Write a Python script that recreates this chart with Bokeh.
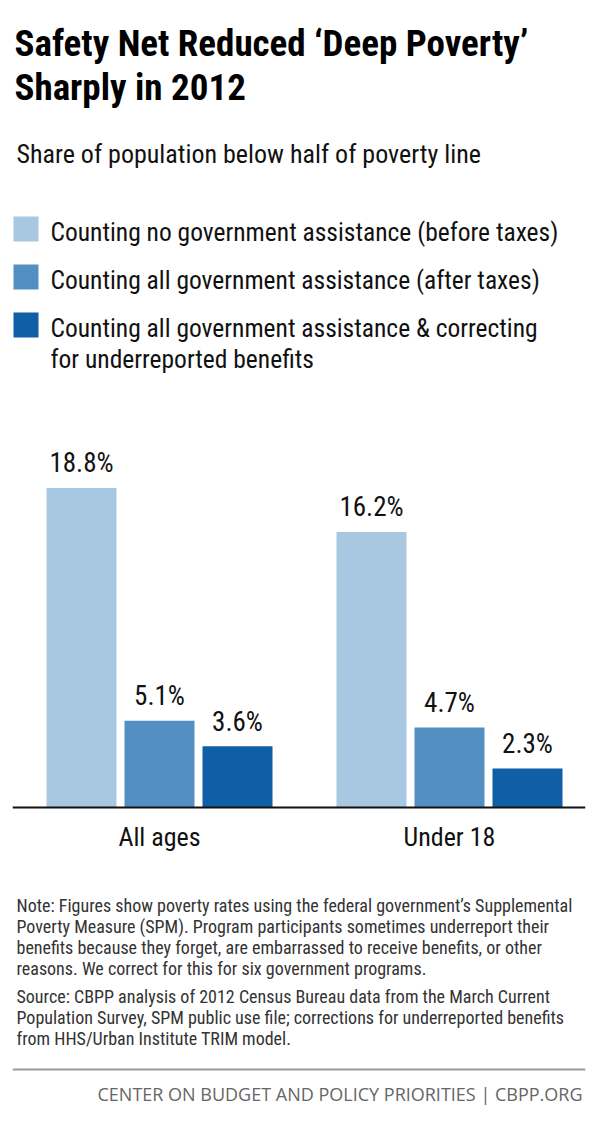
from bokeh.plotting import figure
from bokeh.models import Range1d, Span, Label, BoxAnnotation, ColumnDataSource
from bokeh.embed import file_html
from bokeh.resources import INLINE
from bokeh.core.properties import value

# ---------------- data ----------------
groups = ["All ages", "Under 18"]
series_names = [
    "Counting no government assistance (before taxes)",
    "Counting all government assistance (after taxes)",
    "Counting all government assistance & correcting",
]
series_name_line2 = "for underreported benefits"
no_assistance = [18.8, 16.2]
all_assistance = [5.1, 4.7]
corrected = [3.6, 2.3]
series_values = [no_assistance, all_assistance, corrected]
colors = ["#A8C7E0", "#5390C1", "#0F5FA7"]

title_lines = ["Safety Net Reduced \u2018Deep Poverty\u2019", "Sharply in 2012"]
subtitle = "Share of population below half of poverty line"
note_lines = [
    "Note: Figures show poverty rates using the federal government\u2019s Supplemental",
    "Poverty Measure (SPM). Program participants sometimes underreport their",
    "benefits because they forget, are embarrassed to receive benefits, or other",
    "reasons. We correct for this for six government programs.",
]
source_lines = [
    "Source: CBPP analysis of 2012 Census Bureau data from the March Current",
    "Population Survey, SPM public use file; corrections for underreported benefits",
    "from HHS/Urban Institute TRIM model.",
]
footer = "CENTER ON BUDGET AND POLICY PRIORITIES | CBPP.ORG"

# ---------------- layout ----------------
W, H = 600, 1129
FONT = "Roboto Condensed"
LEFT, RIGHT = 12, 15          # frame borders (px)
BASE = 807                    # baseline pixel row
PX_PER_UNIT = 17.0            # vertical scale
GROUP_PX = 290.0              # px between group centres
G0 = 159.0                    # first group centre (px)
STEP = 78.0 / GROUP_PX        # bar spacing in group units
BAR_W = 70.0 / GROUP_PX
SHIFT = 0.4                   # text baseline correction (em)

def px2x(px):
    return (px - G0) / GROUP_PX

def px2y(py):
    return (BASE - py) / PX_PER_UNIT

p = figure(width=W, height=H, output_backend="svg", toolbar_location=None,
           x_axis_type=None, y_axis_type=None,
           x_range=Range1d(px2x(LEFT), px2x(W - RIGHT)),
           y_range=Range1d(px2y(H), px2y(0)),
           min_border_left=LEFT, min_border_right=RIGHT,
           min_border_top=0, min_border_bottom=0)
p.outline_line_color = None
p.background_fill_color = "white"
p.border_fill_color = "white"
p.xgrid.visible = False
p.ygrid.visible = False

# bars + value labels
VAL_SIZE = 27
for s, vals in enumerate(series_values):
    xs = [g + (s - 1) * STEP for g in range(len(groups))]
    src = ColumnDataSource(dict(x=xs, top=vals, lab=[f"{v}%" for v in vals]))
    p.vbar(x="x", top="top", bottom=0, width=BAR_W, source=src,
           fill_color=colors[s], line_color=None)
    p.text(x="x", y="top", text="lab", source=src, y_offset=-14 - SHIFT * VAL_SIZE,
           text_align="center", text_baseline="alphabetic",
           text_font=value(FONT), text_font_size=f"{VAL_SIZE}px", text_color="#111111")

# baseline
p.add_layout(Span(location=0, dimension="width", line_color="#111111", line_width=2))

# category labels
CAT_SIZE = 26
p.text(x=list(range(len(groups))), y=[0] * len(groups), text=groups,
       y_offset=40 - SHIFT * CAT_SIZE,
       text_align="center", text_baseline="alphabetic",
       text_font=value(FONT), text_font_size=f"{CAT_SIZE}px", text_color="#111111")

def label(txt, px, py, size, color="#111111", style="normal", align="left", font=FONT):
    p.add_layout(Label(x=px2x(px), y=px2y(py - SHIFT * size), text=txt, text_font=font,
                       text_font_size=f"{size}px", text_color=color, text_font_style=style,
                       text_align=align, text_baseline="alphabetic"))

# title + subtitle
label(title_lines[0], 14, 58, 37, "#000000", "bold")
label(title_lines[1], 14, 102, 37, "#000000", "bold")
label(subtitle, 16, 164, 26)

# legend
row_top = [216, 264, 312]
for i, name in enumerate(series_names):
    t = row_top[i]
    p.add_layout(BoxAnnotation(left=px2x(13), right=px2x(38), top=px2y(t), bottom=px2y(t + 25),
                               fill_color=colors[i], fill_alpha=1.0, line_color=None, level="overlay"))
    label(name, 50, t + 26, 25.5)
label(series_name_line2, 50, row_top[2] + 57, 25.5)

# notes
for i, line in enumerate(note_lines):
    label(line, 16, 912 + 21 * i, 18, "#333333")
for i, line in enumerate(source_lines):
    label(line, 16, 1003 + 21 * i, 18, "#333333")

# footer
p.add_layout(Span(location=px2y(1069), dimension="width", line_color="#9a9a9a", line_width=2))
label(footer, 582, 1101, 18, "#666666", align="right", font="Open Sans")

open("out.html", "w").write(file_html(p, INLINE))
